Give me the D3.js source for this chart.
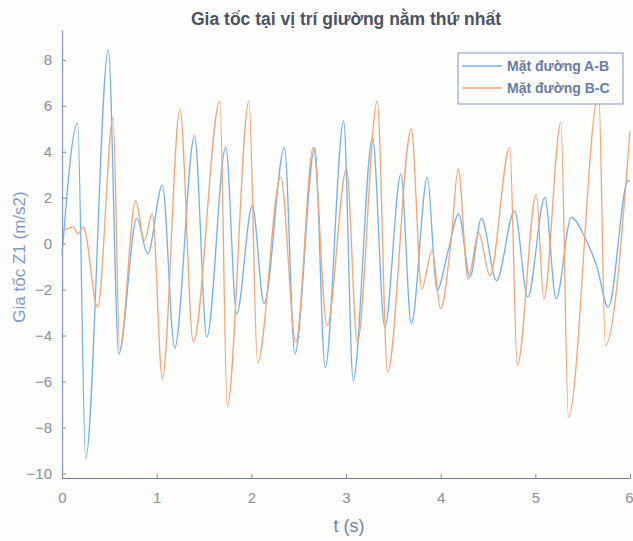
<!DOCTYPE html>
<html>
<head>
<meta charset="utf-8">
<script src="https://cdn.jsdelivr.net/npm/d3@7/dist/d3.min.js"></script>
<style>
  body { margin: 0; background: #fdfdfb; }
  svg { display: block; font-family: "Liberation Sans", Arial, sans-serif; }
</style>
</head>
<body>
<div id="chart"></div>
<script>
var width = 633,
    height = 541;

var title = "Gia tốc tại vị trí giường nằm thứ nhất",
    xLabel = "t (s)",
    yLabel = "Gia tốc Z1 (m/s2)";

var seriesNames = ["Mặt đường A-B", "Mặt đường B-C"];

var xTicks = [0, 1, 2, 3, 4, 5, 6],
    yTicks = [-10, -8, -6, -4, -2, 0, 2, 4, 6, 8];

// Mat duong A-B : turning points
var tAB = [0, 0.165, 0.25, 0.49, 0.60, 0.79, 0.905, 1.06, 1.19, 1.40,
           1.53, 1.73, 1.845, 2.01, 2.135, 2.35, 2.46, 2.67, 2.78, 2.975,
           3.076, 3.28, 3.41, 3.58, 3.69, 3.86, 3.96, 4.08, 4.19, 4.31,
           4.43, 4.59, 4.78, 4.92, 5.10, 5.22, 5.38, 5.52, 5.65, 5.77,
           5.98, 6.0];
var vAB = [-0.5, 5.25, -9.35, 8.45, -4.8, 1.1, -0.45, 2.55, -4.55, 4.7,
           -4.07, 4.2, -3.05, 1.65, -2.6, 4.18, -4.8, 4.18, -5.4, 5.35,
           -5.96, 4.62, -3.64, 3.03, -3.49, 2.88, -2.04, -0.3, 1.29, -1.46,
           1.1, -1.61, 1.43, -2.33, 2.0, -2.4, 1.14, 0.3, -1.0, -2.77,
           2.75, 2.7];

// Mat duong B-C
var tBC = [0, 0.12, 0.17, 0.225, 0.377, 0.54, 0.61, 0.778, 0.87, 0.954,
           1.06, 1.246, 1.387, 1.668, 1.746, 1.975, 2.066, 2.31, 2.47, 2.654,
           2.80, 3.006, 3.12, 3.33, 3.44, 3.69, 3.80, 3.91, 4.00, 4.11,
           4.185, 4.29, 4.40, 4.52, 4.73, 4.81, 5.01, 5.09, 5.27, 5.35,
           5.67, 5.74, 6.0];
var vBC = [0.55, 0.72, 0.42, 0.72, -2.77, 5.5, -4.6, 1.87, 0.13, 1.32,
           -5.88, 5.86, -4.29, 6.2, -7.1, 6.2, -5.2, 2.9, -4.29, 4.19,
           -3.57, 3.25, -4.29, 6.2, -5.6, 4.99, -1.97, -0.3, -2.84, 0.13,
           3.25, -1.54, 0.47, -1.39, 4.19, -5.3, 2.16, -2.4, 5.28, -7.55,
           6.5, -4.43, 4.9];

var colors = { ab: "#74b2e6", bc: "#f1a57a" };

var x0 = 62, x1 = 630, yTop = 30, yBot = 478;

var x = d3.scaleLinear().domain([0, 6]).range([x0, x1]);
var y = d3.scaleLinear().domain([-10.2, 9.3]).range([yBot, yTop]);

var svg = d3.select("#chart").append("svg")
    .attr("width", width)
    .attr("height", height);

var line = d3.line()
    .x(function(d) { return x(d[0]); })
    .y(function(d) { return y(d[1]); })
    .curve(d3.curveMonotoneX);

var dataAB = d3.zip(tAB, vAB),
    dataBC = d3.zip(tBC, vBC);

svg.append("path")
    .datum(dataAB)
    .attr("fill", "none")
    .attr("stroke", colors.ab)
    .attr("stroke-width", 1.3)
    .attr("d", line);

svg.append("path")
    .datum(dataBC)
    .attr("fill", "none")
    .attr("stroke", colors.bc)
    .attr("stroke-width", 1.3)
    .attr("d", line);

// axes, ticks inside like matlab
var yAxis = svg.append("g")
    .attr("transform", "translate(" + x0 + ",0)")
    .call(d3.axisLeft(y).tickValues(yTicks).tickSizeInner(-4).tickSizeOuter(0).tickPadding(10));

var xAxis = svg.append("g")
    .attr("transform", "translate(0," + yBot + ")")
    .call(d3.axisBottom(x).tickValues(xTicks).tickFormat(d3.format("d"))
      .tickSizeInner(-4).tickSizeOuter(0).tickPadding(14));

yAxis.select(".domain").attr("stroke", "#7d9ccc").attr("stroke-width", 1.2);
xAxis.select(".domain").attr("stroke", "#6f7c99").attr("stroke-width", 1.2);
svg.selectAll(".tick line").attr("stroke", "#7f8aa6");
svg.selectAll(".tick text")
    .attr("fill", "#8b8e9f")
    .style("font-size", "15px");

// last x label sits on the right edge, pull it in
xAxis.selectAll(".tick text")
    .filter(function(d) { return d === 6; })
    .attr("text-anchor", "end")
    .attr("dx", "3");

svg.append("text")
    .attr("x", 346)
    .attr("y", 25)
    .attr("text-anchor", "middle")
    .attr("fill", "#4b5266")
    .style("font-size", "17.5px")
    .style("font-weight", "bold")
    .text(title);

svg.append("text")
    .attr("x", 349)
    .attr("y", 532)
    .attr("text-anchor", "middle")
    .attr("fill", "#76819e")
    .style("font-size", "18px")
    .text(xLabel);

svg.append("text")
    .attr("transform", "translate(25,257) rotate(-90)")
    .attr("text-anchor", "middle")
    .attr("fill", "#7f9cc8")
    .style("font-size", "17px")
    .text(yLabel);

// legend
var legend = svg.append("g").attr("transform", "translate(458,53)");

legend.append("rect")
    .attr("width", 165)
    .attr("height", 51)
    .attr("fill", "#fdfdfb")
    .attr("stroke", "#7f96c2")
    .attr("stroke-width", 1);

var entries = legend.selectAll(".entry")
    .data(seriesNames)
    .enter().append("g")
    .attr("transform", function(d, i) { return "translate(0," + (13 + i * 22) + ")"; });

entries.append("line")
    .attr("x1", 4).attr("x2", 44)
    .attr("stroke", function(d, i) { return i === 0 ? colors.ab : colors.bc; })
    .attr("stroke-width", 1.3);

entries.append("text")
    .attr("x", 49)
    .attr("y", 5)
    .attr("fill", "#687ca6")
    .style("font-size", "14px")
    .style("font-weight", "bold")
    .text(function(d) { return d; });
</script>
</body>
</html>
